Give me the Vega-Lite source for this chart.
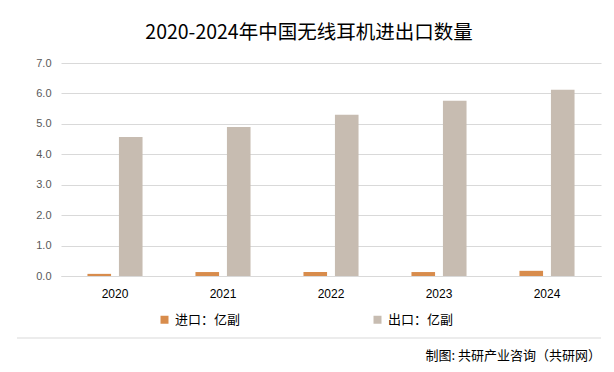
{
  "$schema": "https://vega.github.io/schema/vega-lite/v6.json",
  "background": "white",
  "padding": {"left": 16, "top": 22, "right": 10, "bottom": 2},
  "config": {"view": {"stroke": null}, "font": "Noto Sans CJK SC"},
  "spacing": 10,
  "bounds": "full",
  "resolve": {"legend": {"color": "independent"}, "scale": {"color": "independent", "x": "independent", "y": "independent"}},
  "vconcat": [
    {
      "title": {"text": "2020-2024年中国无线耳机进出口数量", "fontSize": 19.5, "fontWeight": "normal", "color": "#000000", "offset": 14, "anchor": "middle", "frame": "bounds", "font": "Noto Sans CJK SC"},
      "width": 540,
      "height": 213,
      "data": {"values": [
        {"year": "2020", "type": "进口：亿副", "value": 0.07},
        {"year": "2020", "type": "出口：亿副", "value": 4.57},
        {"year": "2021", "type": "进口：亿副", "value": 0.13},
        {"year": "2021", "type": "出口：亿副", "value": 4.90},
        {"year": "2022", "type": "进口：亿副", "value": 0.13},
        {"year": "2022", "type": "出口：亿副", "value": 5.30},
        {"year": "2023", "type": "进口：亿副", "value": 0.13},
        {"year": "2023", "type": "出口：亿副", "value": 5.76},
        {"year": "2024", "type": "进口：亿副", "value": 0.17},
        {"year": "2024", "type": "出口：亿副", "value": 6.12}
      ]},
      "mark": {"type": "bar"},
      "encoding": {
        "x": {"field": "year", "type": "nominal", "scale": {"paddingInner": 0.49, "paddingOuter": 0.245},
          "axis": {"title": null, "labelAngle": 0, "ticks": false, "domain": true, "domainColor": "#d9d9d9", "labelFontSize": 12, "labelColor": "#000000", "labelPadding": 12, "labelFont": "Liberation Sans"}},
        "xOffset": {"field": "type", "type": "nominal", "sort": ["进口：亿副", "出口：亿副"], "scale": {"paddingInner": 0.25, "paddingOuter": 0}},
        "y": {"field": "value", "type": "quantitative", "scale": {"domain": [0, 7]},
          "axis": {"title": null, "values": [0, 1, 2, 3, 4, 5, 6, 7], "format": ".1f", "ticks": false, "domain": false, "gridColor": "#d9d9d9", "labelFontSize": 11, "labelColor": "#595959", "labelPadding": 10, "labelFont": "Liberation Sans", "minExtent": 44}},
        "color": {"field": "type", "type": "nominal", "sort": ["进口：亿副", "出口：亿副"],
          "scale": {"domain": ["进口：亿副", "出口：亿副"], "range": ["#D88C4C", "#C7BCB1"]},
          "legend": {"orient": "none", "legendX": 97, "legendY": 250, "title": null, "direction": "horizontal", "symbolType": "square", "symbolSize": 64, "symbolStrokeWidth": 0, "labelFontSize": 13, "labelColor": "#000000", "columnPadding": 130, "labelOffset": 4}}
      }
    },
    {
      "width": 540,
      "height": 1,
      "title": {"text": "制图: 共研产业咨询（共研网）", "orient": "bottom", "anchor": "end", "align": "right", "frame": "group", "fontSize": 13, "fontWeight": "normal", "color": "#000000", "offset": 11, "font": "Noto Sans CJK SC"},
      "data": {"values": [{"line": 0}]},
      "mark": {"type": "rule", "color": "#d9d9d9", "strokeWidth": 1, "clip": false},
      "encoding": {
        "x": {"datum": -0.0815, "type": "quantitative", "scale": {"domain": [0, 1]}, "axis": null},
        "x2": {"datum": 1},
        "y": {"field": "line", "type": "quantitative", "scale": {"domain": [0, 1]}, "axis": null}
      }
    }
  ]
}
